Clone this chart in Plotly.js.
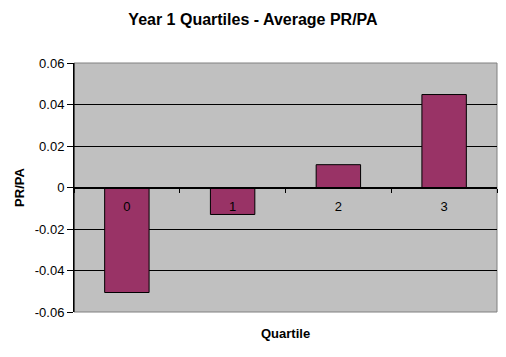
<!DOCTYPE html>
<html>
<head>
<meta charset="utf-8">
<script src="https://cdn.plot.ly/plotly-3.0.1.min.js"></script>
<style>html,body{margin:0;padding:0;background:#fff;}#chart{width:506px;height:357px;}</style>
</head>
<body>
<div id="chart"></div>
<script>
var quartiles = ["0", "1", "2", "3"];
var avgPRPA = [-0.0506, -0.013, 0.011, 0.0448];
var yTickVals = [-0.06, -0.04, -0.02, 0, 0.02, 0.04, 0.06];
var yTickText = ["-0.06", "-0.04", "-0.02", "0", "0.02", "0.04", "0.06"];
var chartTitle = "Year 1 Quartiles - Average PR/PA";
var xTitle = "Quartile";
var yTitle = "PR/PA";

var FONT = "Liberation Sans, Arial, sans-serif";

var trace = {
  type: "bar",
  x: quartiles,
  y: avgPRPA,
  width: 0.42,
  marker: {color: "#993366", line: {color: "#000000", width: 1}},
  hoverinfo: "none"
};

var layout = {
  width: 506, height: 357,
  margin: {l: 74, r: 9, t: 63, b: 45, pad: 0},
  paper_bgcolor: "#ffffff",
  plot_bgcolor: "#c0c0c0",
  showlegend: false,
  font: {family: FONT, size: 13, color: "#000"},
  title: {text: chartTitle, font: {family: FONT, size: 16, color: "#000", weight: "bold"},
          x: 0.5, xanchor: "center", xref: "container", y: 0.945, yanchor: "middle", yref: "container"},
  xaxis: {
    type: "category",
    anchor: "free", position: 0.5,
    showline: true, linecolor: "#000", linewidth: 1,
    ticks: "outside", ticklen: 4, tickcolor: "#000", tickwidth: 1,
    tickson: "boundaries",
    ticklabelstandoff: 7,
    showgrid: false, zeroline: false,
    tickfont: {family: FONT, size: 13, color: "#000"},
    range: [-0.5, 3.5], fixedrange: true
  },
  yaxis: {
    range: [-0.06, 0.06],
    tickvals: yTickVals, ticktext: yTickText,
    showgrid: true, gridcolor: "#000", gridwidth: 1,
    zeroline: false,
    showline: true, linecolor: "#000", linewidth: 1,
    ticks: "outside", ticklen: 6, tickcolor: "#000",
    tickfont: {family: FONT, size: 13, color: "#000"},
    title: {text: yTitle, font: {family: FONT, size: 13, color: "#000", weight: "bold"}, standoff: 7},
    fixedrange: true
  },
  shapes: [
    {type: "rect", xref: "paper", yref: "paper", x0: 0, x1: 1, y0: 0, y1: 1,
     line: {color: "#808080", width: 1}, fillcolor: "rgba(0,0,0,0)", layer: "below"},
    {type: "line", xref: "paper", yref: "paper", x0: 0, x1: 0, y0: 0, y1: 1,
     line: {color: "#000", width: 1}}
  ],
  annotations: [
    {text: "<b>" + xTitle + "</b>", xref: "paper", yref: "paper", x: 0.5, y: -0.088,
     xanchor: "center", yanchor: "middle", showarrow: false,
     font: {family: FONT, size: 13, color: "#000"}}
  ]
};

Plotly.newPlot("chart", [trace], layout, {displayModeBar: false, staticPlot: true});
</script>
</body>
</html>
